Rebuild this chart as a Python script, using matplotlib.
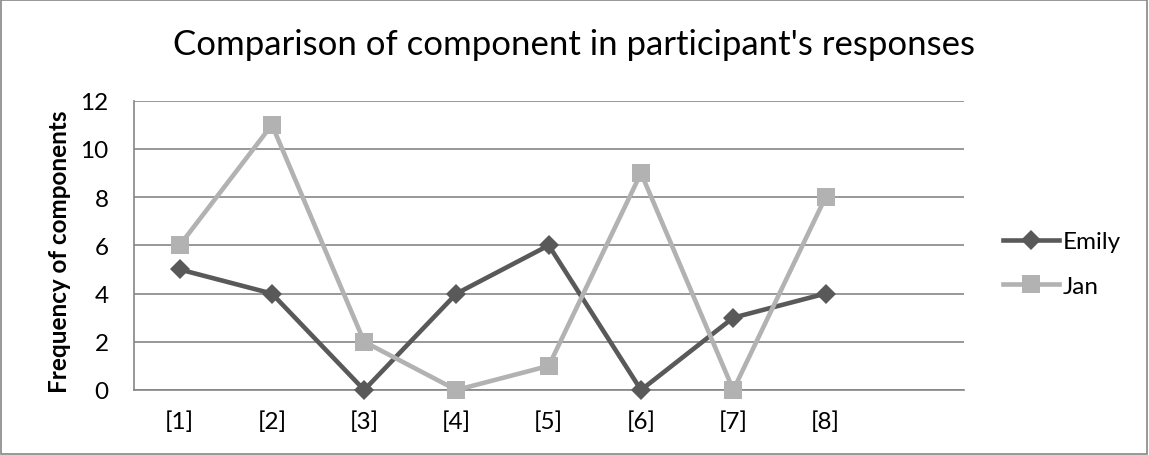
import matplotlib.pyplot as plt
from matplotlib.patches import Rectangle

# Component counts per response
responses = ["[1]", "[2]", "[3]", "[4]", "[5]", "[6]", "[7]", "[8]"]
emily = [5, 4, 0, 4, 6, 0, 3, 4]
jan = [6, 11, 2, 0, 1, 9, 0, 8]
y_ticks = [0, 2, 4, 6, 8, 10, 12]

plt.rcParams['font.family'] = ['Lato', 'DejaVu Sans']
grid_col = '#868686'

fig = plt.figure(figsize=(11.49, 4.56), dpi=100)
ax = fig.add_axes([133.5 / 1149, 1 - 391 / 456, (964 - 133.5) / 1149, (391 - 101.7) / 456])

x = list(range(1, len(responses) + 1))
ax.plot(x, emily, color='#595959', lw=3.3, marker='D', ms=10.5, mew=0, label='Emily',
        zorder=3, clip_on=False)
ax.plot(x, jan, color='#b2b2b2', lw=3.3, marker='s', ms=12.5, mew=0, label='Jan',
        zorder=4, clip_on=False)

ax.set_xlim(0.5, 9.5)
ax.set_ylim(0, 12)
ax.set_xticks(x)
ax.set_xticklabels(responses)
ax.set_yticks(y_ticks)
ax.tick_params(axis='both', length=0, labelsize=17.5, colors='black')
ax.tick_params(axis='x', pad=15)
ax.tick_params(axis='y', pad=18)

ax.grid(axis='y', color=grid_col, lw=1.2)
ax.set_axisbelow(True)
for side in ['top', 'right']:
    ax.spines[side].set_visible(False)
for side in ['left', 'bottom']:
    ax.spines[side].set_color(grid_col)
    ax.spines[side].set_linewidth(1.2)

fig.text(574 / 1149, 1 - 45 / 456, "Comparison of component in participant's responses",
         ha='center', va='center', fontsize=25)
fig.text(60 / 1149, 1 - 252 / 456, "Frequency of components", rotation=90,
         ha='center', va='center', fontsize=17.5, fontweight='bold')

ax.legend(loc='center left', bbox_to_anchor=(1003 / 1149, 1 - 265 / 456),
          bbox_transform=fig.transFigure, frameon=False, fontsize=17.5,
          handlelength=2.3, handletextpad=0.17, labelspacing=0.95,
          borderpad=0, borderaxespad=0)

# outer chart border
fig.patches.append(Rectangle((0.001, 0.002), 0.997, 0.995, transform=fig.transFigure,
                             fill=False, edgecolor=grid_col, lw=1.2))

fig.savefig('out.png', dpi=100)
